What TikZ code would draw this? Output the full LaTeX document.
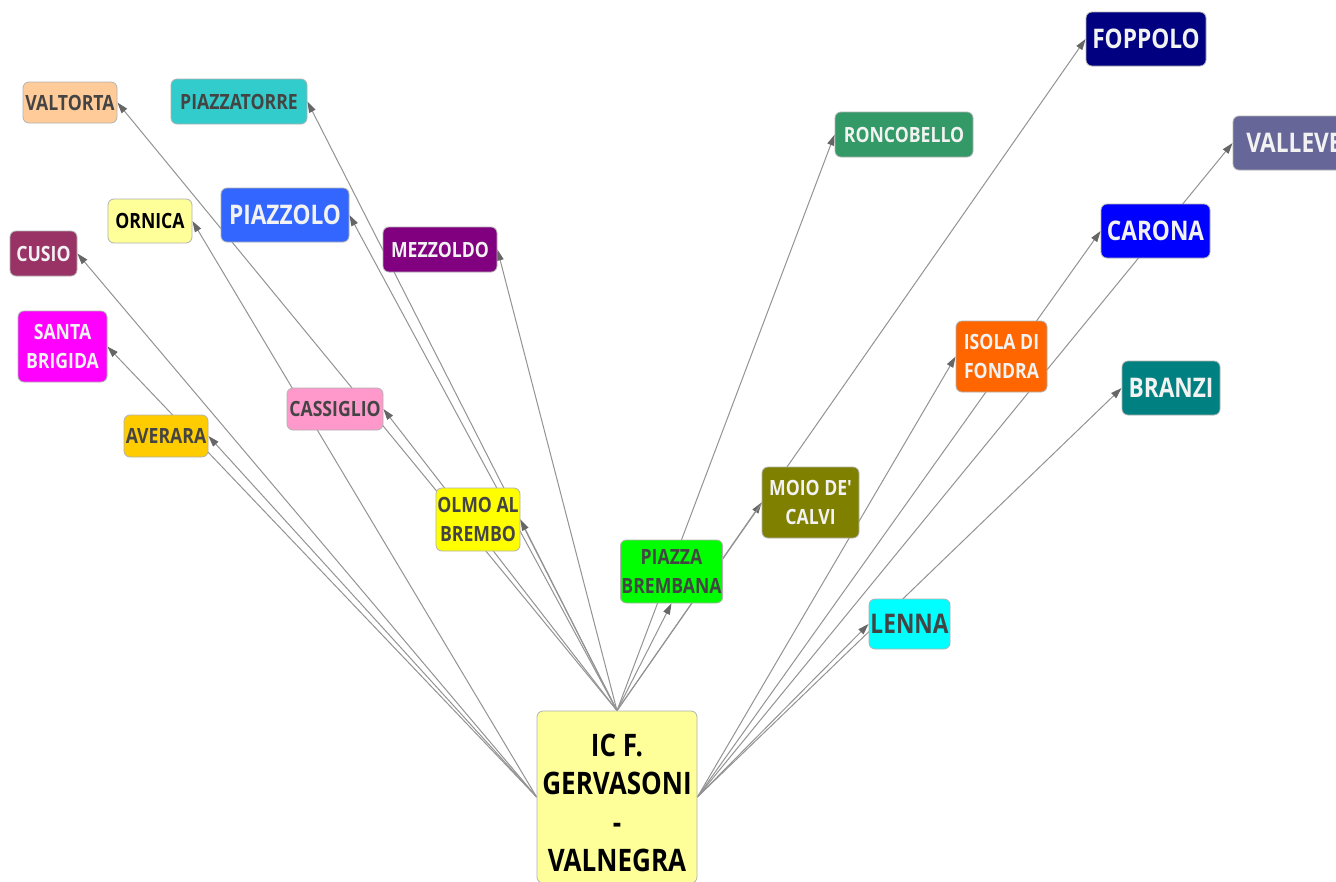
\documentclass[tikz,border=0pt]{standalone}
\usepackage{fontspec}
\usetikzlibrary{arrows.meta}
\newfontfamily\nf[FakeStretch=0.84]{Open Sans}
\newcommand\fsm{\nf\bfseries\fontsize{21}{29}\selectfont}
\newcommand\flg{\nf\bfseries\fontsize{27}{34}\selectfont}
\newcommand\fic{\nf\bfseries\fontsize{31}{38.5}\selectfont}
\definecolor{dk}{HTML}{444444}
\definecolor{wt}{HTML}{F2F2F2}
\pgfdeclarelayer{bg}
\pgfdeclarelayer{edges}
\pgfsetlayers{bg,edges,main}
\tikzset{
  box/.style={draw=gray!60, line width=0.8pt, rounded corners=6pt, align=center, inner sep=1pt},
  sm/.style={box, font=\fsm},
  lg/.style={box, font=\flg},
  conn/.style={draw=gray!85, line width=1pt, -{Triangle[length=11pt,width=7pt,color=black!60]}},
}
\begin{document}
\begin{tikzpicture}[x=1pt,y=-1pt]
\begin{pgfonlayer}{bg}
\fill[white] (0,0) rectangle (1336,881);
\end{pgfonlayer}
\useasboundingbox (0,0) rectangle (1336,881);
% nodes
\node[box, fill={rgb,255:red,255;green,255;blue,153}, minimum width=160, minimum height=172,
  label={[font=\fic, align=center, text=black, yshift=-6pt]center:IC F.\\GERVASONI\\-\\VALNEGRA}] (ic) at (617,797) {};
\node[sm, fill={rgb,255:red,255;green,204;blue,153}, text=dk, minimum width=94, minimum height=41] (valtorta) at (70,102.5) {VALTORTA};
\node[sm, fill={rgb,255:red,51;green,204;blue,204}, text=dk, minimum width=136, minimum height=45] (piazzatorre) at (239,101.5) {PIAZZATORRE};
\node[sm, fill={rgb,255:red,255;green,255;blue,153}, text=black, minimum width=84, minimum height=44] (ornica) at (150,221) {ORNICA};
\node[lg, fill={rgb,255:red,51;green,102;blue,255}, text=wt, minimum width=128, minimum height=54] (piazzolo) at (285,215) {PIAZZOLO};
\node[sm, fill={rgb,255:red,153;green,51;blue,102}, text=wt, minimum width=67, minimum height=45] (cusio) at (43.5,253.5) {CUSIO};
\node[sm, fill={rgb,255:red,128;green,0;blue,128}, text=wt, minimum width=114, minimum height=45] (mezzoldo) at (440,249.5) {MEZZOLDO};
\node[sm, fill={rgb,255:red,255;green,0;blue,255}, text=wt, minimum width=89, minimum height=71] (brigida) at (62.5,346.5) {SANTA\\BRIGIDA};
\node[sm, fill={rgb,255:red,255;green,204;blue,0}, text=dk, minimum width=84, minimum height=42] (averara) at (166,436) {AVERARA};
\node[sm, fill={rgb,255:red,255;green,153;blue,204}, text=dk, minimum width=96, minimum height=42] (cassiglio) at (335,409) {CASSIGLIO};
\node[sm, fill={rgb,255:red,255;green,255;blue,0}, text=dk, minimum width=84, minimum height=63] (olmo) at (478,519.5) {OLMO AL\\BREMBO};
\node[sm, fill={rgb,255:red,0;green,255;blue,0}, text=dk, minimum width=101, minimum height=63] (brembana) at (671.5,571.5) {PIAZZA\\BREMBANA};
\node[sm, fill={rgb,255:red,128;green,128;blue,0}, text=wt, minimum width=97, minimum height=71] (moio) at (810.5,502.5) {MOIO DE'\\CALVI};
\node[sm, fill={rgb,255:red,51;green,153;blue,102}, text=wt, minimum width=138, minimum height=45] (roncobello) at (904,134.5) {RONCOBELLO};
\node[lg, fill={rgb,255:red,0;green,0;blue,128}, text=wt, minimum width=120, minimum height=54] (foppolo) at (1146,39) {FOPPOLO};
\node[lg, fill={rgb,255:red,102;green,102;blue,153}, text=wt, minimum width=122, minimum height=54] (valleve) at (1294,143) {VALLEVE};
\node[lg, fill={rgb,255:red,0;green,0;blue,255}, text=wt, minimum width=109, minimum height=54] (carona) at (1155.5,231) {CARONA};
\node[sm, fill={rgb,255:red,255;green,102;blue,0}, text=wt, minimum width=91, minimum height=71] (isola) at (1001.5,356.5) {ISOLA DI\\FONDRA};
\node[lg, fill={rgb,255:red,0;green,128;blue,128}, text=wt, minimum width=98, minimum height=54] (branzi) at (1171,388) {BRANZI};
\node[lg, fill={rgb,255:red,0;green,255;blue,255}, text=dk, minimum width=81, minimum height=50] (lenna) at (909.5,624) {LENNA};
% connectors
\begin{pgfonlayer}{edges}
\draw[conn] (ic.north) -- (valtorta.east);
\draw[conn] (ic.north) -- (piazzatorre.east);
\draw[conn] (ic.north) -- (piazzolo.east);
\draw[conn] (ic.north) -- (mezzoldo.east);
\draw[conn] (ic.north) -- (cassiglio.east);
\draw[conn] (ic.north) -- (olmo.east);
\draw[conn] (ic.north) -- (brembana.south);
\draw[conn] (ic.north) -- (moio.west);
\draw[conn] (ic.north) -- (roncobello.west);
\draw[conn] (ic.north) -- (foppolo.west);
\draw[conn] (ic.west) -- (ornica.east);
\draw[conn] (ic.west) -- (cusio.east);
\draw[conn] (ic.west) -- (brigida.east);
\draw[conn] (ic.west) -- (averara.east);
\draw[conn] (ic.east) -- (valleve.west);
\draw[conn] (ic.east) -- (carona.west);
\draw[conn] (ic.east) -- (isola.west);
\draw[conn] (ic.east) -- (branzi.west);
\draw[conn] (ic.east) -- (lenna.west);
\end{pgfonlayer}
\end{tikzpicture}
\end{document}
